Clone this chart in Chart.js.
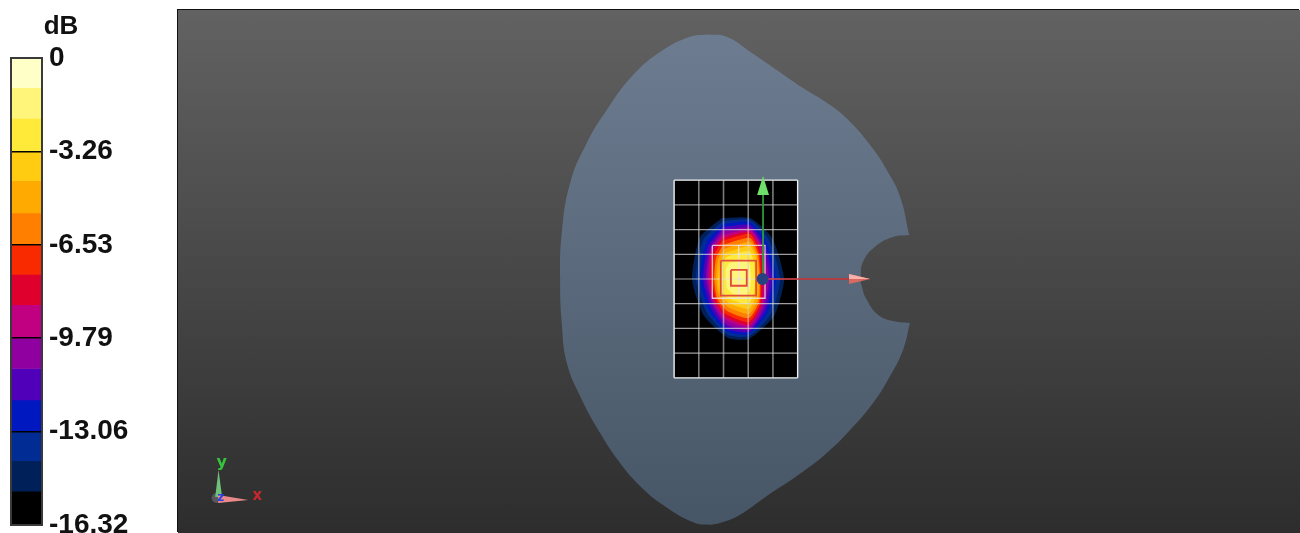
<!DOCTYPE html>
<html>
<head>
<meta charset="utf-8">
<title>SAR scan</title>
<script src="https://cdn.jsdelivr.net/npm/chart.js@4"></script>
<style>
  html, body { margin: 0; padding: 0; background: #fff; width: 1300px; height: 533px; overflow: hidden; }
  canvas { position: absolute; display: block; }
  #barra { left: 0; top: 0; }
  #mapa {
    left: 178px; top: 10px;
    background: linear-gradient(#626262, #2d2d2d);
    box-shadow: -1px -1px 0 #111;
  }
</style>
</head>
<body>
<canvas id="barra" width="170" height="533"></canvas>
<canvas id="mapa" width="1122" height="523"></canvas>
<script>
// colour bar
const unidad = 'dB';
const etiquetasDb = [0, -3.26, -6.53, -9.79, -13.06, -16.32];
const bandasDb = [-1.04, -1.07, -1.15, -1.03, -1.12, -1.12, -1.03, -1.06, -1.17, -1.06, -1.10, -1.11, -1.01, -1.07, -1.18];
const coloresBanda = ['#ffffc8', '#fff57a', '#ffea3a', '#ffcc11', '#ffaa00', '#ff7f00', '#f92a00', '#e0002e',
  '#c00080', '#9000a0', '#5000b8', '#0018c0', '#002c94', '#00205a', '#000000'];

// phantom outline, mm
const contornoX = [-33.6, -21.4, -7.3, 8.9, 24.9, 41.3, 53.4, 65.6, 75.7, 83.8, 89.4, 89.4, 79.5, 68.6, 61.3, 59.9, 60.5, 63.6, 70.4, 79.5, 89.8, 89.8,
  85.6, 77.7, 67.4, 53.4, 39.3, 21.1, 2.9, -13.4, -23.7, -33.6, -43.7, -60.1, -74.1, -86.2, -98.3, -110.5, -118.5, -121.6, -122.6, -121.6, -116.5, -106.4, -94.3, -78.3, -60.1, -43.7, -33.6];
const contornoY = [148.5, 147.1, 138, 126.9, 115.9, 105.6, 95.5, 81.3, 66.2, 50, 26.7, 26.7, 25.5, 19.6, 10.5, 1.4, -4.2, -12.6, -21.7, -25.5, -26.7, -26.7,
  -42.9, -58.9, -75.3, -91.7, -105.6, -119.6, -131.7, -143.1, -147.5, -149.1, -146.9, -137.2, -125.6, -111.7, -93.5, -71, -51, -26.7, 0.6, 27.9, 58.3, 82.6, 102.6, 123.8, 139, 147.1, 148.5];

// scan area grid, mm
const rejillaX = [-53.4, -38.4, -23.4, -8.4, 6.6, 21.6];
const rejillaY = [-60, -45, -30, -15, 0, 15, 30, 45, 60];

// iso-dB contours from -15.2 dB up to the peak, mm
const isoX = [
  [-24.3, -7.3, 6.1, 13.4, 7.3, -7.9, -20.6, -35.2, -42.5, -37.6],
  [-23.7, -7.3, 4.2, 10.9, 5.5, -7.9, -20.6, -33.4, -40.1, -35.8],
  [-23.7, -7.3, 3, 8.5, 3.6, -7.9, -20.6, -32.2, -37.6, -34],
  [-23.7, -7.3, 1.8, 6.1, 2.4, -7.9, -21.2, -31, -35.8, -32.8],
  [-24.3, -7.3, 0.6, 4.2, 1.2, -7.9, -21.2, -29.7, -34, -31.6],
  [-24.3, -7.3, 0, 2.4, 0, -7.9, -21.9, -29.1, -32.8, -31],
  [-24.3, -7.3, -1.2, 0.6, -0.6, -7.9, -21.9, -28.5, -31.6, -30.4],
  [-24.3, -7.3, -1.8, -0.6, -1.2, -7.9, -21.9, -27.9, -30.4, -29.1],
  [-23.7, -7.3, -2.4, -1.2, -1.8, -7.9, -21.2, -27.3, -29.1, -27.9],
  [-23.1, -7.3, -3, -1.8, -2.4, -7.9, -20.6, -26.1, -27.9, -26.7],
  [-22.5, -7.3, -3.6, -3, -3.6, -7.9, -20, -25.5, -26.7, -25.5],
  [-21.9, -7.9, -4.9, -4.2, -4.9, -8.5, -19.4, -24.3, -24.9, -24.3],
  [-20, -9.1, -7.3, -6.7, -7.3, -10.3, -17.6, -21.2, -21.9, -21.9]
];
const isoY = [
  [37, 37, 24.9, 0, -22.5, -36.4, -35.8, -22.5, 0, 25.5],
  [35.2, 35.8, 23.7, 0, -21.2, -34.6, -34, -20.6, 0, 23.7],
  [33.4, 34.6, 21.9, 0, -20, -33.4, -32.2, -19.4, 0, 21.9],
  [31.6, 32.8, 20.6, 0, -18.8, -32.2, -30.4, -17.6, 0, 20],
  [29.1, 31, 19.4, 0, -17.6, -31, -27.9, -16.4, 0, 18.2],
  [26.7, 29.7, 18.2, 0, -17, -29.1, -24.9, -15.2, 0, 17],
  [24.9, 28.5, 17.6, 0, -16.4, -27.9, -23.1, -14, 0, 15.8],
  [23.1, 27.3, 16.4, 0, -15.2, -26.1, -21.2, -12.7, 0, 14.6],
  [20.6, 24.9, 15.2, 0, -14, -23.7, -19.4, -11.5, 0, 12.7],
  [18.2, 22.5, 14, 0, -12.1, -21.2, -17, -10.3, 0, 11.5],
  [15.8, 20, 12.1, 0, -10.3, -18.2, -14.6, -9.1, 0, 10.3],
  [13.4, 17, 10.3, 0, -8.5, -15.2, -12.1, -7.9, 0, 9.1],
  [9.7, 12.1, 7.9, 0, -6.1, -10.3, -9.1, -5.5, 0, 6.1]
];

// zoom scan boxes, mm: [left, right, top, bottom]
const cajaZoom = [-30.2, 1.8, 20.4, -11.7];
const cajaMedia = [-25.1, -3.6, 11.1, -10.1];
const cajaPico = [-18.9, -9.3, 5.5, -4.1];

// axes triad
const flechaVerdeX = [-3, 0.6, 4.2, -3];
const flechaVerdeY = [51, 62.5, 51, 51];
const flechaRojaX = [52.8, 65.6, 52.8, 52.8];
const flechaRojaY = [3, 0, -3, 3];
const brilloRojoY = [3, 0, 0, 3];
const triadaVerdeX = [-332, -330, -327.8, -332];
const triadaVerdeY = [-132.3, -115.9, -132.3, -132.3];
const triadaRojaX = [-330.2, -312, -330.2, -330.2];
const triadaRojaY = [-131.1, -134.1, -136, -131.1];
const letrasEje = ['y', 'x', 'z'];
const letrasX = [-328, -306.5, -328.6];
const letrasY = [-111.5, -132.1, -132.9];
const letrasColor = ['#35c43c', '#c8282c', '#2a3fe0'];
const letrasTam = [16, 15, 12];

function puntos(xs, ys) { return xs.map((x, i) => ({ x, y: ys[i] })); }
function linea(xs, ys, color, ancho) {
  return { data: puntos(xs, ys), showLine: true, pointRadius: 0, borderColor: color, borderWidth: ancho, fill: false, tension: 0 };
}
function relleno(xs, ys, color, tension) {
  return { data: puntos(xs, ys), showLine: true, pointRadius: 0, borderWidth: 0, borderColor: 'transparent', backgroundColor: color, fill: 'shape', tension };
}
function caja(c, color, ancho) {
  return linea([c[0], c[1], c[1], c[0], c[0]], [c[2], c[2], c[3], c[3], c[2]], color, ancho);
}
function cerrar(a) { return a.concat([a[0]]); }

// colour bar chart
new Chart(document.getElementById('barra'), {
  type: 'bar',
  data: {
    labels: [unidad],
    datasets: bandasDb.map((v, i) => ({ data: [v], backgroundColor: coloresBanda[i], borderWidth: 0, barPercentage: 1, categoryPercentage: 1 }))
  },
  options: {
    responsive: false, animation: false,
    layout: { autoPadding: false, padding: { left: 11, top: 58, bottom: 8, right: 0 } },
    plugins: { legend: { display: false }, tooltip: { enabled: false } },
    scales: {
      x: { stacked: true, display: false },
      y: {
        stacked: true, position: 'right', min: -16.32, max: 0,
        afterBuildTicks: a => { a.ticks = etiquetasDb.map(value => ({ value })); },
        afterFit: a => { a.width = 128; a.paddingTop = 0; a.paddingBottom = 0; },
        border: { display: false },
        grid: { color: '#000', lineWidth: 1.5, z: 1, drawTicks: false },
        ticks: {
          padding: 7, color: '#111', autoSkip: false, maxRotation: 0,
          font: { family: '"Liberation Sans"', size: 28, weight: 'bold' },
          callback: v => String(v)
        }
      }
    }
  },
  plugins: [{
    id: 'marco',
    afterDraw(c) {
      const { ctx, chartArea: a } = c;
      ctx.save();
      ctx.strokeStyle = '#3a3a3a'; ctx.lineWidth = 2;
      ctx.strokeRect(a.left, a.top, a.right - a.left, a.bottom - a.top);
      ctx.fillStyle = '#111'; ctx.font = 'bold 26px "Liberation Sans"';
      ctx.textAlign = 'center'; ctx.textBaseline = 'middle';
      ctx.fillText(unidad, 61, 27);
      ctx.restore();
    }
  }]
});

// main map
const capas = [];
capas.push(relleno(contornoX, contornoY, c => {
  const { ctx, chartArea } = c.chart;
  if (!chartArea) return '#5a6a7c';
  const g = ctx.createLinearGradient(0, 24, 0, 515);
  g.addColorStop(0, '#6d7c90');
  g.addColorStop(1, '#465666');
  return g;
}, 0.45));
const xa = rejillaX[0], xb = rejillaX[rejillaX.length - 1], ya = rejillaY[0], yb = rejillaY[rejillaY.length - 1];
capas.push(relleno([xa, xb, xb, xa, xa], [ya, ya, yb, yb, ya], '#000', 0));
isoX.forEach((xs, i) => capas.push(relleno(cerrar(xs), cerrar(isoY[i]), coloresBanda[13 - i], 0.2)));
rejillaX.forEach((x, i) => {
  const borde = i === 0 || i === rejillaX.length - 1;
  capas.push(linea([x, x], [ya, yb], borde ? '#f0f0f0' : 'rgba(205,205,205,0.6)', borde ? 1.4 : 1.6));
});
rejillaY.forEach((y, i) => {
  const borde = i === 0 || i === rejillaY.length - 1;
  capas.push(linea([xa, xb], [y, y], borde ? '#f0f0f0' : 'rgba(225,225,225,0.7)', borde ? 1.4 : 1.2));
});
capas.push(caja(cajaZoom, 'rgba(240,225,225,0.85)', 1.3));
capas.push(linea([(cajaZoom[0] + cajaZoom[1]) / 2, (cajaZoom[0] + cajaZoom[1]) / 2], [cajaZoom[2], cajaZoom[3]], 'rgba(240,225,225,0.65)', 1));
capas.push(caja(cajaMedia, '#e24a3a', 1.8));
capas.push(caja(cajaPico, '#e24a3a', 1.8));
capas.push(linea([0.6, 0.6], [0, 52], '#2f9a3a', 1.8));
capas.push(relleno(flechaVerdeX, flechaVerdeY, '#6fe06a', 0));
capas.push(linea([0, 53], [0, 0], '#cc2f35', 1.3));
capas.push(relleno(flechaRojaX, flechaRojaY, '#d9695f', 0));
capas.push(relleno(flechaRojaX, brilloRojoY, '#f7b0aa', 0));
capas.push({ data: [{ x: 0.3, y: 0 }], pointRadius: 6, pointBackgroundColor: '#27407f', pointBorderWidth: 0 });
capas.push({ data: [{ x: -331.1, y: -132.9 }], pointRadius: 5, pointBackgroundColor: 'rgba(95,95,100,0.85)', pointBorderWidth: 0 });
capas.push(relleno(triadaVerdeX, triadaVerdeY, '#6fc078', 0));
capas.push(relleno(triadaRojaX, triadaRojaY, '#e88a8a', 0));
capas.forEach((d, i) => { d.order = -i; });

new Chart(document.getElementById('mapa'), {
  type: 'scatter',
  data: { datasets: capas },
  options: {
    responsive: false, animation: false,
    layout: { autoPadding: false, padding: 0 },
    plugins: { legend: { display: false }, tooltip: { enabled: false } },
    scales: {
      x: { type: 'linear', display: false, min: -354.6, max: 326.6 },
      y: { type: 'linear', display: false, min: -154.2, max: 163.3 }
    }
  },
  plugins: [{
    id: 'letras',
    afterDatasetsDraw(c) {
      const { ctx, scales } = c;
      ctx.save();
      ctx.textAlign = 'center'; ctx.textBaseline = 'middle';
      letrasEje.forEach((t, i) => {
        ctx.font = 'bold ' + letrasTam[i] + 'px "DejaVu Sans"';
        ctx.fillStyle = letrasColor[i];
        ctx.fillText(t, scales.x.getPixelForValue(letrasX[i]), scales.y.getPixelForValue(letrasY[i]));
      });
      ctx.restore();
    }
  }]
});
</script>
</body>
</html>
